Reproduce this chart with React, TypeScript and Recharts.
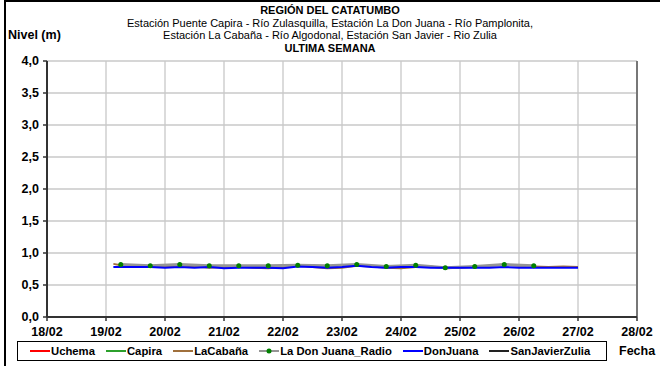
import React from "react";
import { CartesianGrid, Line, LineChart, ReferenceLine, XAxis, YAxis } from "recharts";

// hours counted from 18/02 00:00
const dayTicks = [0, 24, 48, 72, 96, 120, 144, 168, 192, 216, 240];
const dayLabels = ["18/02", "19/02", "20/02", "21/02", "22/02", "23/02", "24/02", "25/02", "26/02", "27/02", "28/02"];
const levelTicks = [0, 0.5, 1, 1.5, 2, 2.5, 3, 3.5, 4];
const gridLevels = [0, 0.25, 0.5, 0.75, 1, 1.25, 1.5, 1.75, 2, 2.25, 2.5, 2.75, 3, 3.25, 3.5, 3.75, 4];

const sixHourTimes = [
  27, 30, 36, 42, 48, 54, 60, 66, 72, 78, 84, 90, 96, 102, 108, 114, 120,
  126, 132, 138, 144, 150, 156, 162, 168, 174, 180, 186, 192, 198, 204, 210, 216,
];
const donJuanaLevels = [
  0.78, 0.78, 0.78, 0.78, 0.77, 0.78, 0.77, 0.78, 0.76, 0.77, 0.77, 0.77, 0.76, 0.79, 0.78, 0.77, 0.78,
  0.8, 0.78, 0.77, 0.78, 0.78, 0.77, 0.77, 0.77, 0.77, 0.77, 0.78, 0.77, 0.77, 0.77, 0.77, 0.77,
];
const laCabanaLevels = [
  0.83, 0.81, 0.79, 0.78, 0.78, 0.81, 0.79, 0.77, 0.78, 0.79, 0.77, 0.76, 0.78, 0.8, 0.78, 0.76, 0.77,
  0.8, 0.79, 0.77, 0.76, 0.78, 0.79, 0.76, 0.77, 0.79, 0.8, 0.82, 0.8, 0.79, 0.78, 0.79, 0.78,
];

const radioTimes = [30, 42, 54, 66, 78, 90, 102, 114, 126, 138, 150, 162, 174, 186, 198];
const radioLevels = [0.82, 0.8, 0.82, 0.8, 0.8, 0.8, 0.81, 0.8, 0.82, 0.79, 0.81, 0.77, 0.79, 0.82, 0.8];

type Point = { t: number; v: number };
const toPoints = (times: number[], levels: number[]): Point[] => times.map((t, i) => ({ t, v: levels[i] }));

const series = [
  { name: "Uchema", color: "#ff0000", points: [] as Point[], width: 2 },
  { name: "Capira", color: "#2ca02c", points: [] as Point[], width: 2 },
  { name: "LaCabaña", color: "#a0703c", points: toPoints(sixHourTimes, laCabanaLevels), width: 2 },
  { name: "La Don Juana_Radio", color: "#959595", points: toPoints(radioTimes, radioLevels), width: 3, dot: true },
  { name: "DonJuana", color: "#0000ff", points: toPoints(sixHourTimes, donJuanaLevels), width: 2 },
  { name: "SanJavierZulia", color: "#222222", points: [] as Point[], width: 2 },
];

const font = "'Liberation Sans', Arial, sans-serif";
const tickStyle = { fill: "#000", fontSize: 12.5, fontWeight: 700, fontFamily: font };

function LegendBox() {
  return (
    <div
      style={{
        position: "absolute",
        left: 17,
        top: 341,
        width: 590,
        height: 20,
        border: "1px solid #000",
        display: "flex",
        alignItems: "center",
        gap: 11,
        paddingLeft: 12,
        boxSizing: "border-box",
        fontFamily: font,
        fontSize: 11.3,
        fontWeight: 700,
      }}
    >
      {series.map((s) => (
        <div key={s.name} style={{ display: "flex", alignItems: "center", gap: 1 }}>
          <svg width={20} height={8}>
            <line x1={0} y1={4} x2={20} y2={4} stroke={s.color} strokeWidth={2} />
            {s.dot && <circle cx={10} cy={4} r={2.5} fill="#008000" />}
          </svg>
          <span>{s.name}</span>
        </div>
      ))}
    </div>
  );
}

export default function App() {
  return (
    <div style={{ position: "fixed", left: 0, top: 0, width: 660, height: 366, background: "#fff", overflow: "hidden" }}>
      <div
        style={{
          position: "absolute",
          left: 4,
          top: 0,
          width: 700,
          height: 400,
          borderLeft: "2px solid #000",
          borderTop: "2px solid #000",
        }}
      />
      <div
        style={{
          position: "absolute",
          left: 30,
          width: 600,
          top: 4,
          textAlign: "center",
          fontFamily: font,
          fontSize: 11,
          lineHeight: "12.5px",
          color: "#000",
        }}
      >
        <div style={{ fontWeight: 700 }}>REGIÓN DEL CATATUMBO</div>
        <div>Estación Puente Capira - Río Zulasquilla, Estación La Don Juana - Río Pamplonita,</div>
        <div>Estación La Cabaña - Río Algodonal, Estación San Javier - Rio Zulia</div>
        <div style={{ fontWeight: 700 }}>ULTIMA SEMANA</div>
      </div>
      <div style={{ position: "absolute", left: 8, top: 28, fontFamily: font, fontSize: 12.5, fontWeight: 700 }}>
        Nivel (m)
      </div>
      <div style={{ position: "absolute", left: 619, top: 344, fontFamily: font, fontSize: 12.5, fontWeight: 700 }}>
        Fecha
      </div>
      <div style={{ position: "absolute", left: 0, top: 0 }}>
        <LineChart width={660} height={366} margin={{ top: 61, right: 23, bottom: 29, left: 7 }}>
          <CartesianGrid
            stroke="#c8c8c8"
            strokeWidth={1.3}
            horizontalValues={gridLevels}
            verticalValues={dayTicks}
          />
          <XAxis
            type="number"
            dataKey="t"
            domain={[0, 240]}
            ticks={dayTicks}
            tickFormatter={(h: number) => dayLabels[dayTicks.indexOf(h)]}
            tick={{ ...tickStyle, dy: 4 }}
            axisLine={{ stroke: "#333", strokeWidth: 2 }}
            tickLine={{ stroke: "#333", strokeWidth: 1.5 }}
            tickSize={4}
            height={20}
            allowDuplicatedCategory={false}
          />
          <YAxis
            type="number"
            domain={[0, 4]}
            ticks={levelTicks}
            tickFormatter={(v: number) => v.toFixed(1).replace(".", ",")}
            tick={{ ...tickStyle, dx: -2 }}
            axisLine={{ stroke: "#333", strokeWidth: 2 }}
            tickLine={{ stroke: "#333", strokeWidth: 1.5 }}
            tickSize={4}
            width={40}
          />
          <ReferenceLine x={240} stroke="#777" strokeWidth={2} />
          {series.map((s) => (
            <Line
              key={s.name}
              data={s.points}
              dataKey="v"
              name={s.name}
              type="linear"
              stroke={s.color}
              strokeWidth={s.width}
              dot={s.dot ? { r: 2.5, fill: "#008000", stroke: "#008000", strokeWidth: 0 } : false}
              isAnimationActive={false}
            />
          ))}
        </LineChart>
      </div>
      <LegendBox />
    </div>
  );
}
